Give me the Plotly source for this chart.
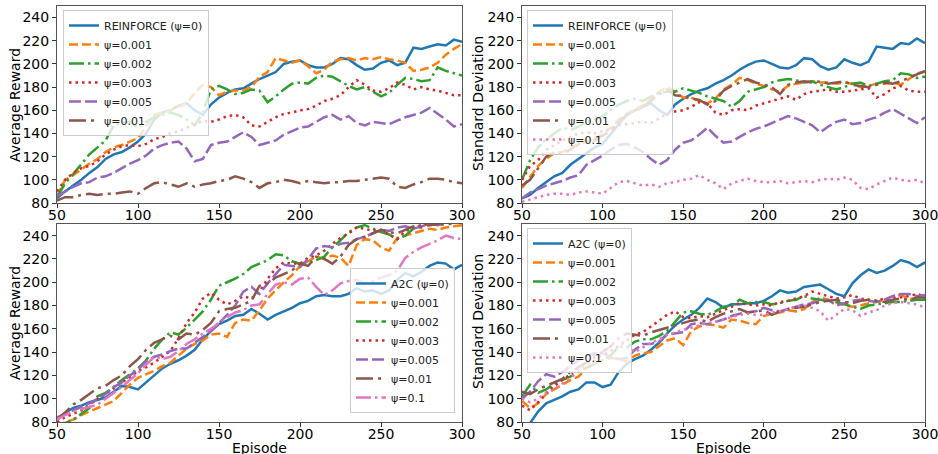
import plotly.graph_objects as go

# ---------------- data (every 5 episodes) ----------------
episodes = list(range(50, 301, 5))
x_ticks = [50, 100, 150, 200, 250, 300]
y_ticks = [80, 100, 120, 140, 160, 180, 200, 220, 240]

rf_labels = ["REINFORCE (ψ=0)", "ψ=0.001", "ψ=0.002", "ψ=0.003", "ψ=0.005", "ψ=0.01", "ψ=0.1"]
a2c_labels = ["A2C (ψ=0)", "ψ=0.001", "ψ=0.002", "ψ=0.003", "ψ=0.005", "ψ=0.01", "ψ=0.1"]

# REINFORCE - average reward
rf_reward_psi0 = [84, 90, 95, 100, 106, 111, 118, 122, 124, 128,
                  133, 140, 152, 158, 160, 164, 166, 160, 156, 165,
                  171, 175, 178, 179, 183, 187, 190, 193, 200, 202,
                  203, 199, 197, 197, 200, 205, 204, 199, 195, 196,
                  201, 203, 199, 201, 214, 213, 215, 217, 216, 221, 219]
rf_reward_psi0001 = [86, 100, 104, 109, 114, 118, 124, 128, 130, 133,
                     136, 146, 156, 158, 160, 163, 166, 175, 182, 180,
                     173, 176, 177, 177, 180, 189, 193, 205, 203, 201,
                     203, 198, 192, 195, 202, 204, 205, 203, 205, 204,
                     206, 204, 203, 201, 194, 195, 197, 201, 208, 213, 217]
rf_reward_psi0002 = [85, 97, 105, 114, 122, 128, 134, 147, 149, 150,
                     145, 150, 154, 156, 158, 156, 152, 147, 158, 178,
                     181, 178, 174, 175, 178, 177, 167, 172, 178, 183,
                     184, 183, 188, 190, 189, 185, 181, 178, 180, 176,
                     172, 175, 182, 188, 187, 185, 186, 197, 194, 192, 190]
rf_reward_psi0003 = [90, 100, 106, 110, 112, 116, 122, 126, 129, 130,
                     129, 131, 135, 137, 140, 142, 145, 148, 151, 150,
                     152, 155, 156, 154, 147, 146, 150, 154, 157, 158,
                     160, 161, 164, 168, 170, 173, 180, 186, 182, 177,
                     176, 179, 184, 182, 178, 180, 178, 177, 175, 173, 173]
rf_reward_psi0005 = [86, 90, 94, 97, 98, 102, 103, 106, 110, 114,
                     117, 121, 127, 130, 132, 133, 127, 116, 118, 130,
                     132, 133, 137, 141, 137, 130, 132, 134, 139, 142,
                     145, 146, 150, 154, 156, 152, 155, 149, 147, 150,
                     149, 148, 151, 154, 156, 158, 162, 157, 152, 146, 148]
rf_reward_psi001 = [82, 85, 85, 87, 88, 87, 88, 88, 89, 90,
                    88, 93, 97, 98, 96, 94, 97, 94, 96, 97,
                    99, 100, 103, 101, 98, 93, 97, 98, 100, 99,
                    97, 99, 98, 97, 98, 98, 99, 99, 100, 101,
                    102, 101, 94, 93, 96, 98, 101, 101, 100, 98, 97]

# REINFORCE - standard deviation
rf_std_psi0 = [84, 87, 93, 98, 103, 106, 113, 118, 123, 128,
               131, 140, 148, 156, 160, 163, 166, 160, 156, 165,
               170, 174, 177, 179, 183, 186, 190, 195, 199, 202,
               203, 200, 197, 196, 199, 205, 204, 198, 195, 197,
               204, 201, 199, 202, 215, 214, 213, 218, 217, 222, 218]
rf_std_psi0001 = [93, 103, 112, 118, 123, 124, 128, 130, 133, 136,
                  139, 145, 152, 157, 161, 164, 170, 176, 180, 176,
                  171, 171, 168, 166, 170, 178, 182, 188, 186, 183,
                  181, 178, 176, 181, 183, 184, 185, 184, 184, 183,
                  184, 183, 180, 181, 183, 183, 184, 182, 187, 192, 193]
rf_std_psi0002 = [100, 117, 128, 135, 140, 145, 143, 146, 150, 152,
                  155, 160, 165, 168, 170, 168, 172, 175, 176, 176,
                  179, 177, 175, 172, 170, 168, 163, 168, 176, 178,
                  180, 184, 186, 187, 186, 184, 185, 182, 180, 178,
                  180, 183, 184, 181, 183, 185, 186, 192, 191, 188, 189]
rf_std_psi0003 = [100, 112, 117, 126, 130, 134, 137, 140, 141, 140,
                  142, 144, 147, 148, 149, 150, 149, 153, 157, 159,
                  160, 163, 167, 166, 158, 156, 160, 161, 160, 164,
                  166, 168, 170, 172, 169, 174, 176, 177, 178, 176,
                  176, 177, 178, 179, 171, 174, 179, 181, 177, 176, 176]
rf_std_psi0005 = [84, 89, 92, 95, 97, 99, 102, 104, 113, 117,
                  121, 126, 130, 131, 128, 124, 118, 113, 117, 126,
                  132, 134, 139, 145, 138, 132, 133, 137, 141, 144,
                  146, 149, 152, 155, 153, 150, 147, 141, 146, 150,
                  152, 148, 149, 152, 154, 158, 161, 157, 153, 149, 154]
rf_std_psi001 = [95, 100, 110, 120, 124, 122, 126, 131, 134, 134,
                 138, 142, 150, 156, 160, 163, 168, 174, 178, 173,
                 172, 170, 169, 165, 168, 177, 181, 184, 187, 184,
                 182, 180, 174, 182, 184, 185, 184, 185, 183, 184,
                 185, 182, 181, 180, 182, 184, 183, 185, 188, 191, 194]
rf_std_psi01 = [81, 83, 85, 87, 88, 88, 87, 89, 90, 89,
                88, 93, 98, 99, 97, 95, 96, 94, 97, 98,
                100, 101, 104, 100, 97, 92, 97, 99, 101, 99,
                98, 98, 99, 97, 98, 99, 98, 100, 101, 100,
                102, 100, 93, 92, 96, 99, 102, 100, 99, 100, 97]

# A2C - average reward
a2c_reward_psi0 = [82, 88, 92, 94, 97, 99, 101, 106, 111, 110,
                   108, 114, 120, 126, 130, 133, 137, 142, 151, 158,
                   164, 167, 171, 172, 177, 173, 168, 172, 175, 178,
                   182, 184, 188, 189, 188, 188, 190, 195, 192, 193,
                   190, 193, 202, 208, 205, 209, 214, 217, 216, 211, 215]
a2c_reward_psi0001 = [76, 80, 82, 86, 89, 92, 95, 98, 105, 112,
                      118, 121, 124, 128, 131, 137, 143, 147, 150, 155,
                      156, 153, 165, 168, 167, 176, 186, 193, 200, 206,
                      214, 218, 222, 220, 223, 221, 214, 232, 237, 236,
                      230, 227, 238, 240, 242, 244, 246, 245, 247, 248, 249]
a2c_reward_psi0002 = [75, 79, 82, 87, 92, 102, 105, 110, 116, 121,
                      126, 133, 143, 151, 157, 155, 161, 168, 175, 185,
                      197, 200, 203, 207, 213, 216, 219, 224, 223, 218,
                      216, 217, 219, 222, 230, 236, 243, 247, 249, 246,
                      243, 241, 237, 240, 246, 249, 251, 252, 253, 253, 254]
a2c_reward_psi0003 = [80, 84, 87, 90, 95, 100, 104, 109, 114, 118,
                      124, 127, 131, 136, 141, 152, 165, 174, 186, 191,
                      185, 181, 184, 188, 186, 192, 203, 212, 217, 216,
                      216, 221, 223, 227, 233, 238, 242, 247, 246, 244,
                      245, 241, 237, 244, 247, 249, 250, 252, 252, 253, 253]
a2c_reward_psi0005 = [84, 87, 90, 93, 96, 100, 104, 110, 114, 120,
                      125, 132, 136, 138, 141, 143, 143, 148, 153, 158,
                      165, 172, 180, 192, 196, 190, 199, 207, 215, 214,
                      213, 220, 229, 231, 230, 233, 234, 237, 239, 242,
                      245, 244, 247, 248, 246, 248, 250, 249, 252, 251, 252]
a2c_reward_psi001 = [82, 88, 95, 99, 104, 109, 111, 116, 120, 128,
                     134, 142, 148, 151, 154, 151, 156, 155, 159, 165,
                     175, 177, 178, 181, 184, 197, 199, 204, 207, 210,
                     216, 214, 222, 220, 216, 222, 232, 237, 239, 242,
                     245, 243, 242, 245, 248, 247, 249, 250, 249, 251, 251]
a2c_reward_psi01 = [82, 86, 89, 91, 93, 95, 100, 105, 110, 116,
                    122, 129, 136, 134, 136, 141, 147, 151, 156, 160,
                    165, 170, 174, 176, 180, 181, 190, 198, 200, 198,
                    203, 204, 196, 189, 193, 199, 201, 202, 199, 201,
                    204, 206, 210, 221, 226, 230, 233, 236, 240, 238, 237]

# A2C - standard deviation
a2c_std_psi0 = [76, 79, 89, 96, 99, 102, 106, 108, 114, 114,
                110, 112, 123, 130, 134, 137, 142, 148, 156, 163,
                168, 172, 178, 186, 183, 178, 181, 181, 182, 182,
                184, 188, 193, 191, 192, 196, 197, 198, 194, 190,
                188, 199, 206, 211, 208, 210, 214, 219, 217, 213, 217]
a2c_std_psi0001 = [98, 92, 96, 104, 108, 112, 116, 119, 126, 130,
                   133, 135, 134, 132, 137, 139, 140, 145, 150, 152,
                   146, 158, 162, 164, 163, 161, 168, 167, 165, 164,
                   171, 173, 174, 176, 175, 177, 183, 187, 185, 183,
                   180, 179, 180, 182, 183, 185, 188, 189, 186, 185, 186]
a2c_std_psi0002 = [102, 112, 105, 108, 113, 116, 119, 123, 127, 130,
                   133, 137, 145, 144, 149, 151, 151, 154, 158, 166,
                   174, 175, 173, 172, 175, 179, 180, 185, 182, 183,
                   183, 181, 182, 184, 185, 188, 186, 185, 184, 183,
                   181, 179, 177, 180, 181, 182, 183, 183, 184, 185, 185]
a2c_std_psi0003 = [94, 90, 97, 105, 111, 116, 121, 127, 131, 135,
                   137, 141, 145, 150, 155, 157, 162, 167, 172, 175,
                   170, 169, 171, 170, 173, 176, 179, 182, 181, 180,
                   181, 180, 183, 184, 186, 188, 192, 190, 188, 186,
                   187, 189, 186, 185, 184, 186, 186, 187, 188, 190, 188]
a2c_std_psi0005 = [100, 106, 115, 121, 119, 123, 128, 133, 137, 139,
                   139, 136, 134, 135, 142, 147, 147, 149, 155, 156,
                   157, 164, 165, 164, 166, 168, 171, 173, 174, 175,
                   178, 176, 175, 177, 179, 181, 182, 184, 185, 180,
                   182, 184, 185, 184, 183, 185, 188, 190, 190, 188, 189]
a2c_std_psi001 = [106, 104, 108, 111, 114, 117, 123, 127, 131, 137,
                  140, 145, 152, 156, 155, 154, 157, 159, 161, 163,
                  165, 167, 168, 166, 170, 173, 175, 177, 174, 175,
                  176, 172, 175, 177, 178, 179, 181, 183, 184, 185,
                  183, 182, 184, 185, 184, 183, 185, 186, 185, 187, 187]
a2c_std_psi01 = [100, 97, 100, 105, 108, 113, 118, 124, 129, 132,
                 138, 146, 152, 145, 140, 144, 148, 151, 155, 157,
                 159, 161, 163, 165, 166, 168, 170, 172, 173, 172,
                 172, 174, 175, 177, 179, 180, 178, 175, 167, 172,
                 177, 176, 171, 174, 176, 180, 182, 183, 182, 181, 178]

# ---------------- styles ----------------
C = ["#1f77b4", "#ff7f0e", "#2ca02c", "#d62728", "#9467bd", "#8c564b", "#e377c2"]
D_SOLID = "solid"
D_DASH = "9px,4px"
D_LDASH = "12px,4px"
D_DASHDOT = "15px,4px,2.5px,4px"
D_BDASHDOT = "17px,5px,3px,5px"
D_DOT = "2.5px,4px"

panels = [
    ("x", "y", "legend", [
        (rf_labels[0], rf_reward_psi0, C[0], D_SOLID),
        (rf_labels[1], rf_reward_psi0001, C[1], D_DASH),
        (rf_labels[2], rf_reward_psi0002, C[2], D_DASHDOT),
        (rf_labels[3], rf_reward_psi0003, C[3], D_DOT),
        (rf_labels[4], rf_reward_psi0005, C[4], D_LDASH),
        (rf_labels[5], rf_reward_psi001, C[5], D_BDASHDOT),
    ]),
    ("x2", "y2", "legend2", [
        (rf_labels[0], rf_std_psi0, C[0], D_SOLID),
        (rf_labels[1], rf_std_psi0001, C[1], D_DASH),
        (rf_labels[2], rf_std_psi0002, C[2], D_DASHDOT),
        (rf_labels[3], rf_std_psi0003, C[3], D_DOT),
        (rf_labels[4], rf_std_psi0005, C[4], D_LDASH),
        (rf_labels[5], rf_std_psi001, C[5], D_BDASHDOT),
        (rf_labels[6], rf_std_psi01, C[6], D_DOT),
    ]),
    ("x3", "y3", "legend3", [
        (a2c_labels[0], a2c_reward_psi0, C[0], D_SOLID),
        (a2c_labels[1], a2c_reward_psi0001, C[1], D_DASH),
        (a2c_labels[2], a2c_reward_psi0002, C[2], D_DASHDOT),
        (a2c_labels[3], a2c_reward_psi0003, C[3], D_DOT),
        (a2c_labels[4], a2c_reward_psi0005, C[4], D_LDASH),
        (a2c_labels[5], a2c_reward_psi001, C[5], D_BDASHDOT),
        (a2c_labels[6], a2c_reward_psi01, C[6], D_DASHDOT),
    ]),
    ("x4", "y4", "legend4", [
        (a2c_labels[0], a2c_std_psi0, C[0], D_SOLID),
        (a2c_labels[1], a2c_std_psi0001, C[1], D_DASH),
        (a2c_labels[2], a2c_std_psi0002, C[2], D_DASHDOT),
        (a2c_labels[3], a2c_std_psi0003, C[3], D_DOT),
        (a2c_labels[4], a2c_std_psi0005, C[4], D_LDASH),
        (a2c_labels[5], a2c_std_psi001, C[5], D_BDASHDOT),
        (a2c_labels[6], a2c_std_psi01, C[6], D_DOT),
    ]),
]

fig = go.Figure()
for xa, ya, lg, series in panels:
    for label, vals, color, dash in series:
        fig.add_trace(go.Scatter(
            x=episodes, y=vals, mode="lines", name=label,
            xaxis=xa, yaxis=ya, legend=lg,
            line=dict(color=color, width=2.5, dash=dash),
            hoverinfo="skip",
        ))

FONT = "DejaVu Sans"
L, R, T, B = 57, 13, 6, 32
W, H = 938, 454
PW, PH = W - L - R, H - T - B


def px_x(p):
    return (p - L) / PW


def px_y(p):
    return (H - B - p) / PH


axis_common = dict(
    showline=True, mirror=True, linecolor="#555555", linewidth=1,
    ticks="outside", ticklen=4, tickwidth=1, tickcolor="#333333",
    showgrid=False, zeroline=False, automargin=False,
    ticklabeloverflow="allow",
    tickfont=dict(family=FONT, size=14, color="black"),
)

xdom_left = [0, px_x(462)]
xdom_right = [px_x(522), 1]
ydom_top = [px_y(203), 1]
ydom_bot = [0, px_y(224)]

layout = dict(
    width=W, height=H,
    margin=dict(l=L, r=R, t=T, b=B),
    paper_bgcolor="white", plot_bgcolor="white",
    font=dict(family=FONT, size=14, color="black"),
    showlegend=True,
)

for i, (xd, yd) in enumerate([(xdom_left, ydom_top), (xdom_right, ydom_top),
                              (xdom_left, ydom_bot), (xdom_right, ydom_bot)]):
    n = "" if i == 0 else str(i + 1)
    layout["xaxis" + n] = dict(axis_common, domain=xd, range=[50, 300],
                               tickvals=x_ticks, anchor="y" + n,
                               ticklabelstandoff=-5)
    layout["yaxis" + n] = dict(axis_common, domain=yd, range=[80, 250],
                               tickvals=y_ticks, anchor="x" + n)

# axis titles placed as annotations (matching the reference positions)
title_font = dict(family=FONT, size=14, color="black")
layout["annotations"] = [
    dict(text="Average Reward", x=px_x(15), y=px_y(105), xref="paper", yref="paper",
         textangle=-90, showarrow=False, xanchor="center", yanchor="middle", font=title_font),
    dict(text="Standard Deviation", x=px_x(478), y=px_y(104), xref="paper", yref="paper",
         textangle=-90, showarrow=False, xanchor="center", yanchor="middle", font=title_font),
    dict(text="Average Reward", x=px_x(15), y=px_y(323), xref="paper", yref="paper",
         textangle=-90, showarrow=False, xanchor="center", yanchor="middle", font=title_font),
    dict(text="Standard Deviation", x=px_x(478), y=px_y(322), xref="paper", yref="paper",
         textangle=-90, showarrow=False, xanchor="center", yanchor="middle", font=title_font),
    dict(text="Episode", x=px_x(259), y=px_y(448), xref="paper", yref="paper",
         showarrow=False, xanchor="center", yanchor="middle", font=title_font),
    dict(text="Episode", x=px_x(723), y=px_y(448), xref="paper", yref="paper",
         showarrow=False, xanchor="center", yanchor="middle", font=title_font),
]

legend_common = dict(
    bgcolor="rgba(255,255,255,0.8)", bordercolor="#cccccc", borderwidth=1,
    font=dict(family=FONT, size=11, color="#222222"),
    itemwidth=30, tracegroupgap=0,
)
layout["legend"] = dict(legend_common, x=px_x(63), y=px_y(10), xanchor="left", yanchor="top")
layout["legend2"] = dict(legend_common, x=px_x(527), y=px_y(10), xanchor="left", yanchor="top")
layout["legend3"] = dict(legend_common, x=px_x(455), y=px_y(413), xanchor="right", yanchor="bottom")
layout["legend4"] = dict(legend_common, x=px_x(527), y=px_y(228), xanchor="left", yanchor="top")

fig.update_layout(**layout)
fig.write_html(
    "out.html",
    config={"displayModeBar": False},
    post_script="document.body.style.margin='0px';document.body.style.overflow='hidden';",
)
